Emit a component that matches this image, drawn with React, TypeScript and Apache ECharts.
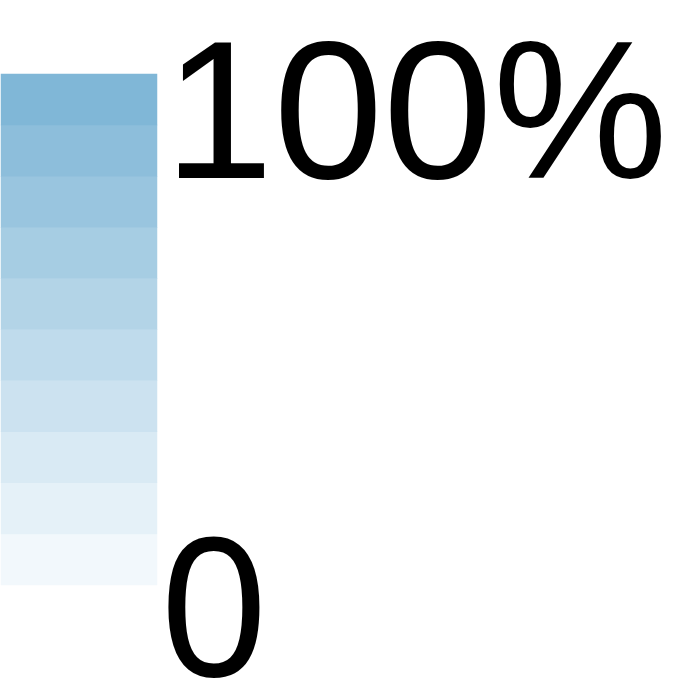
import React, { useEffect, useRef } from "react";
import * as echarts from "echarts";

// Legend bins, bottom (lightest) to top (darkest)
const bins = ["0–10%", "10–20%", "20–30%", "30–40%", "40–50%", "50–60%", "60–70%", "70–80%", "80–90%", "90–100%"];
const binValues = [0, 1, 2, 3, 4, 5, 6, 7, 8, 9];
const rampColors = ["#f2f8fc", "#80b7d7"];
const tickLabels = ["100%", "0"];

export default function App() {
  const ref = useRef<HTMLDivElement>(null);
  useEffect(() => {
    if (!ref.current) return;
    const chart = echarts.init(ref.current, null, { renderer: "svg" });
    chart.setOption({
      animation: false,
      grid: { left: 1, top: 74, width: 156, height: 511 },
      xAxis: { type: "category", data: [""], show: false },
      yAxis: { type: "category", data: bins, show: false },
      visualMap: {
        show: false,
        type: "continuous",
        min: 0,
        max: 9,
        dimension: 2,
        inRange: { color: rampColors },
      },
      series: [
        {
          type: "heatmap",
          data: binValues.map((v, i) => [0, i, v]),
          itemStyle: { borderWidth: 0 },
          emphasis: { disabled: true },
        },
      ],
      graphic: [
        {
          type: "text",
          x: 164,
          y: 110,
          style: {
            text: tickLabels[0],
            fontFamily: "'Liberation Sans', Arial, sans-serif",
            fontSize: 197,
            fill: "#000",
            verticalAlign: "middle",
            align: "left",
          },
        },
        {
          type: "text",
          x: 159,
          y: 601,
          style: {
            text: tickLabels[1],
            fontFamily: "'Noto Sans', sans-serif",
            fontSize: 192,
            fill: "#000",
            verticalAlign: "middle",
            align: "left",
          },
        },
      ],
    });
    return () => chart.dispose();
  }, []);
  return (
    <div
      ref={ref}
      style={{ position: "fixed", left: 0, top: 0, width: 690, height: 678, background: "#fff" }}
    />
  );
}
